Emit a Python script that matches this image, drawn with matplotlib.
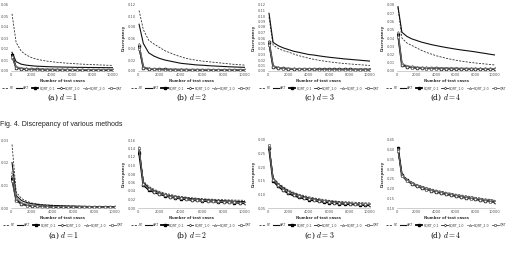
import matplotlib
matplotlib.use("Agg")
import matplotlib.pyplot as plt
from matplotlib.ticker import MultipleLocator, FormatStrFormatter

plt.rcParams['mathtext.fontset'] = 'cm'

x = [100, 500, 1000, 1500, 2000, 2500, 3000, 3500, 4000, 4500, 5000,
     5500, 6000, 6500, 7000, 7500, 8000, 8500, 9000, 9500, 10000]
labels = ["RT", "ART", "RQRT_0.1", "RQRT_1.0", "RQRT_2.0", "QRT"]
captions = ["(a) $d=1$", "(b) $d=2$", "(c) $d=3$", "(d) $d=4$"]
fig_caption = "Fig. 4. Discrepancy of various methods"
xlabel = "Number of test cases"
ylabel = "Discrepancy"

# ---------------- top row ----------------
t1_RT = [0.052, 0.026, 0.018, 0.0145, 0.0122, 0.0108, 0.0098, 0.009, 0.0084, 0.0079, 0.0075, 0.0071, 0.0068, 0.0065, 0.0062, 0.006, 0.0058, 0.0056, 0.0054, 0.0052, 0.0051]
t1_ART = [0.017, 0.0085, 0.0062, 0.0053, 0.0048, 0.0044, 0.0042, 0.004, 0.0038, 0.0037, 0.0036, 0.0035, 0.0034, 0.0033, 0.0033, 0.0032, 0.0032, 0.0031, 0.0031, 0.003, 0.003]
t1_R01 = [0.0145, 0.003, 0.0021, 0.0017, 0.0015, 0.0014, 0.0013, 0.0012, 0.0012, 0.0011, 0.0011, 0.0011, 0.001, 0.001, 0.001, 0.001, 0.001, 0.0009, 0.0009, 0.0009, 0.0009]
t1_R10 = [0.0135, 0.0032, 0.0022, 0.0018, 0.0016, 0.0015, 0.0014, 0.0013, 0.0012, 0.0012, 0.0011, 0.0011, 0.0011, 0.001, 0.001, 0.001, 0.001, 0.001, 0.001, 0.0009, 0.0009]
t1_R20 = [0.012, 0.004, 0.0029, 0.0024, 0.0021, 0.0019, 0.0018, 0.0017, 0.0016, 0.0016, 0.0015, 0.0015, 0.0014, 0.0014, 0.0014, 0.0013, 0.0013, 0.0013, 0.0013, 0.0012, 0.0012]
t1_QRT = [0.0125, 0.0028, 0.0019, 0.0015, 0.0013, 0.0012, 0.0011, 0.001, 0.001, 0.0009, 0.0009, 0.0009, 0.0008, 0.0008, 0.0008, 0.0008, 0.0008, 0.0007, 0.0007, 0.0007, 0.0007]

t2_RT = [0.11, 0.075, 0.056, 0.049, 0.043, 0.037, 0.033, 0.029, 0.026, 0.023, 0.021, 0.0195, 0.018, 0.017, 0.016, 0.015, 0.014, 0.013, 0.012, 0.0113, 0.0107]
t2_ART = [0.085, 0.05, 0.033, 0.027, 0.023, 0.02, 0.018, 0.016, 0.014, 0.013, 0.012, 0.011, 0.0105, 0.0098, 0.0092, 0.0087, 0.0082, 0.0077, 0.0073, 0.0069, 0.0066]
t2_R01 = [0.045, 0.006, 0.004, 0.0033, 0.003, 0.0028, 0.0026, 0.0025, 0.0024, 0.0023, 0.0022, 0.0022, 0.0021, 0.0021, 0.002, 0.002, 0.002, 0.0019, 0.0019, 0.0019, 0.0018]
t2_R10 = [0.043, 0.0065, 0.0043, 0.0035, 0.0031, 0.0029, 0.0027, 0.0026, 0.0025, 0.0024, 0.0023, 0.0023, 0.0022, 0.0022, 0.0021, 0.0021, 0.0021, 0.002, 0.002, 0.002, 0.002]
t2_R20 = [0.05, 0.008, 0.005, 0.0042, 0.0037, 0.0034, 0.0032, 0.003, 0.0029, 0.0028, 0.0027, 0.0026, 0.0026, 0.0025, 0.0025, 0.0024, 0.0024, 0.0023, 0.0023, 0.0023, 0.0022]
t2_QRT = [0.04, 0.0055, 0.0035, 0.0028, 0.0025, 0.0023, 0.0021, 0.002, 0.0019, 0.0018, 0.0018, 0.0017, 0.0017, 0.0016, 0.0016, 0.0016, 0.0015, 0.0015, 0.0015, 0.0015, 0.0014]

t3_RT = [0.098, 0.047, 0.041, 0.037, 0.0345, 0.031, 0.028, 0.0255, 0.0232, 0.0212, 0.0195, 0.018, 0.0167, 0.0155, 0.0145, 0.0136, 0.0128, 0.0121, 0.0114, 0.0107, 0.0101]
t3_ART = [0.105, 0.052, 0.046, 0.042, 0.039, 0.036, 0.034, 0.032, 0.030, 0.029, 0.0275, 0.0262, 0.025, 0.024, 0.023, 0.022, 0.0212, 0.0204, 0.0196, 0.0188, 0.018]
t3_R01 = [0.052, 0.008, 0.0055, 0.0046, 0.0041, 0.0038, 0.0036, 0.0034, 0.0033, 0.0032, 0.0031, 0.003, 0.003, 0.0029, 0.0029, 0.0028, 0.0028, 0.0027, 0.0027, 0.0027, 0.0026]
t3_R10 = [0.05, 0.0085, 0.0058, 0.0048, 0.0043, 0.004, 0.0038, 0.0036, 0.0035, 0.0034, 0.0033, 0.0032, 0.0031, 0.0031, 0.003, 0.003, 0.0029, 0.0029, 0.0029, 0.0028, 0.0028]
t3_R20 = [0.054, 0.01, 0.0068, 0.0056, 0.005, 0.0046, 0.0043, 0.0041, 0.0039, 0.0038, 0.0037, 0.0036, 0.0035, 0.0034, 0.0034, 0.0033, 0.0033, 0.0032, 0.0032, 0.0031, 0.0031]
t3_QRT = [0.048, 0.007, 0.0048, 0.004, 0.0036, 0.0033, 0.0031, 0.003, 0.0029, 0.0028, 0.0027, 0.0026, 0.0026, 0.0025, 0.0025, 0.0024, 0.0024, 0.0024, 0.0023, 0.0023, 0.0023]

t4_RT = [0.077, 0.04, 0.034, 0.031, 0.028, 0.025, 0.0225, 0.0205, 0.0185, 0.017, 0.0155, 0.0142, 0.0131, 0.0121, 0.0112, 0.0104, 0.0097, 0.0091, 0.0085, 0.0079, 0.0073]
t4_ART = [0.078, 0.047, 0.042, 0.039, 0.037, 0.035, 0.0335, 0.032, 0.0308, 0.0296, 0.0285, 0.0275, 0.0265, 0.0256, 0.0248, 0.024, 0.0232, 0.0222, 0.0213, 0.0203, 0.0194]
t4_R01 = [0.045, 0.0075, 0.0052, 0.0044, 0.0039, 0.0036, 0.0034, 0.0032, 0.0031, 0.003, 0.0029, 0.0028, 0.0028, 0.0027, 0.0027, 0.0026, 0.0026, 0.0025, 0.0025, 0.0025, 0.0024]
t4_R10 = [0.043, 0.008, 0.0056, 0.0047, 0.0042, 0.0039, 0.0037, 0.0035, 0.0034, 0.0033, 0.0032, 0.0031, 0.0031, 0.003, 0.003, 0.0029, 0.0029, 0.0028, 0.0028, 0.0028, 0.0027]
t4_R20 = [0.047, 0.0095, 0.0066, 0.0055, 0.0049, 0.0045, 0.0043, 0.0041, 0.0039, 0.0038, 0.0037, 0.0036, 0.0035, 0.0034, 0.0034, 0.0033, 0.0033, 0.0032, 0.0032, 0.0031, 0.0031]
t4_QRT = [0.041, 0.007, 0.0048, 0.004, 0.0035, 0.0032, 0.003, 0.0029, 0.0028, 0.0027, 0.0026, 0.0025, 0.0025, 0.0024, 0.0024, 0.0023, 0.0023, 0.0023, 0.0022, 0.0022, 0.0022]

# ---------------- bottom row ----------------
b1_RT = [0.028, 0.007, 0.0042, 0.003, 0.0022, 0.0018, 0.0015, 0.0013, 0.0012, 0.0011, 0.001, 0.0009, 0.00085, 0.0008, 0.00075, 0.0007, 0.00065, 0.0006, 0.0006, 0.00055, 0.0005]
b1_ART = [0.02, 0.0055, 0.0033, 0.0024, 0.0019, 0.0016, 0.0013, 0.0012, 0.0011, 0.001, 0.0009, 0.00085, 0.0008, 0.00075, 0.0007, 0.00065, 0.0006, 0.00058, 0.00055, 0.00052, 0.0005]
b1_R01 = [0.013, 0.0035, 0.0018, 0.0012, 0.0009, 0.0008, 0.0007, 0.0006, 0.00055, 0.0005, 0.00048, 0.00045, 0.00043, 0.0004, 0.00038, 0.00036, 0.00035, 0.00034, 0.00033, 0.00032, 0.0003]
b1_R10 = [0.014, 0.004, 0.002, 0.0014, 0.001, 0.0009, 0.0008, 0.0007, 0.0006, 0.00055, 0.0005, 0.00048, 0.00045, 0.00043, 0.0004, 0.00038, 0.00037, 0.00036, 0.00035, 0.00034, 0.00033]
b1_R20 = [0.016, 0.0045, 0.0024, 0.0017, 0.0013, 0.0011, 0.0009, 0.0008, 0.0007, 0.00065, 0.0006, 0.00056, 0.00052, 0.0005, 0.00047, 0.00045, 0.00043, 0.00041, 0.0004, 0.00038, 0.00037]
b1_QRT = [0.012, 0.003, 0.0016, 0.0011, 0.0008, 0.0007, 0.0006, 0.00055, 0.0005, 0.00045, 0.00042, 0.0004, 0.00038, 0.00036, 0.00034, 0.00033, 0.00032, 0.00031, 0.0003, 0.00029, 0.00028]

b2_RT = [0.145, 0.063, 0.051, 0.044, 0.039, 0.035, 0.032, 0.029, 0.027, 0.0255, 0.024, 0.023, 0.022, 0.021, 0.0205, 0.02, 0.0195, 0.019, 0.0186, 0.0183, 0.018]
b2_ART = [0.14, 0.06, 0.048, 0.041, 0.036, 0.032, 0.029, 0.027, 0.025, 0.0235, 0.022, 0.021, 0.020, 0.019, 0.0183, 0.0176, 0.017, 0.0165, 0.016, 0.0155, 0.015]
b2_R01 = [0.13, 0.054, 0.043, 0.037, 0.033, 0.029, 0.026, 0.024, 0.022, 0.0205, 0.019, 0.018, 0.017, 0.016, 0.0153, 0.0146, 0.014, 0.0134, 0.0128, 0.0122, 0.0117]
b2_R10 = [0.135, 0.055, 0.044, 0.038, 0.0335, 0.0295, 0.0265, 0.0245, 0.0225, 0.021, 0.0195, 0.0184, 0.0174, 0.0165, 0.0157, 0.015, 0.0143, 0.0137, 0.0131, 0.0126, 0.0121]
b2_R20 = [0.14, 0.057, 0.046, 0.039, 0.0345, 0.0305, 0.0275, 0.0253, 0.0233, 0.0217, 0.0202, 0.019, 0.018, 0.0171, 0.0163, 0.0156, 0.0149, 0.0143, 0.0137, 0.0132, 0.0127]
b2_QRT = [0.142, 0.056, 0.045, 0.0385, 0.034, 0.03, 0.027, 0.025, 0.023, 0.0213, 0.0198, 0.0187, 0.0177, 0.0168, 0.016, 0.0153, 0.0146, 0.014, 0.0134, 0.0129, 0.0124]

b3_RT = [0.28, 0.162, 0.142, 0.128, 0.116, 0.108, 0.101, 0.096, 0.091, 0.087, 0.084, 0.081, 0.078, 0.076, 0.074, 0.073, 0.072, 0.071, 0.07, 0.069, 0.068]
b3_ART = [0.275, 0.158, 0.138, 0.124, 0.112, 0.104, 0.097, 0.092, 0.087, 0.083, 0.08, 0.077, 0.075, 0.073, 0.071, 0.069, 0.068, 0.066, 0.065, 0.064, 0.063]
b3_R01 = [0.27, 0.15, 0.13, 0.115, 0.104, 0.096, 0.09, 0.085, 0.081, 0.078, 0.075, 0.072, 0.07, 0.068, 0.066, 0.065, 0.064, 0.063, 0.062, 0.061, 0.06]
b3_R10 = [0.272, 0.152, 0.132, 0.117, 0.106, 0.098, 0.092, 0.087, 0.083, 0.08, 0.077, 0.074, 0.072, 0.07, 0.068, 0.067, 0.065, 0.064, 0.063, 0.062, 0.061]
b3_R20 = [0.278, 0.155, 0.135, 0.12, 0.109, 0.101, 0.094, 0.089, 0.085, 0.081, 0.078, 0.076, 0.073, 0.071, 0.07, 0.068, 0.067, 0.066, 0.065, 0.064, 0.063]
b3_QRT = [0.28, 0.153, 0.133, 0.118, 0.107, 0.099, 0.093, 0.088, 0.084, 0.08, 0.077, 0.075, 0.072, 0.07, 0.069, 0.067, 0.066, 0.065, 0.064, 0.063, 0.062]

b4_RT = [0.405, 0.275, 0.25, 0.234, 0.222, 0.213, 0.205, 0.198, 0.192, 0.186, 0.181, 0.176, 0.171, 0.167, 0.163, 0.159, 0.155, 0.151, 0.147, 0.144, 0.14]
b4_ART = [0.4, 0.27, 0.245, 0.229, 0.217, 0.208, 0.2, 0.193, 0.187, 0.181, 0.176, 0.171, 0.166, 0.162, 0.158, 0.154, 0.15, 0.146, 0.142, 0.139, 0.136]
b4_R01 = [0.41, 0.268, 0.242, 0.226, 0.213, 0.204, 0.196, 0.189, 0.183, 0.177, 0.172, 0.167, 0.162, 0.157, 0.153, 0.149, 0.145, 0.141, 0.137, 0.134, 0.131]
b4_R10 = [0.405, 0.27, 0.244, 0.228, 0.215, 0.206, 0.198, 0.191, 0.185, 0.179, 0.174, 0.169, 0.164, 0.159, 0.155, 0.151, 0.147, 0.143, 0.139, 0.136, 0.133]
b4_R20 = [0.4, 0.272, 0.246, 0.23, 0.218, 0.209, 0.201, 0.194, 0.188, 0.182, 0.177, 0.172, 0.167, 0.163, 0.159, 0.155, 0.151, 0.147, 0.143, 0.14, 0.137]
b4_QRT = [0.395, 0.266, 0.24, 0.224, 0.211, 0.202, 0.194, 0.187, 0.181, 0.175, 0.17, 0.165, 0.16, 0.156, 0.152, 0.148, 0.144, 0.14, 0.136, 0.133, 0.13]

top_series = [
    [t1_RT, t1_ART, t1_R01, t1_R10, t1_R20, t1_QRT],
    [t2_RT, t2_ART, t2_R01, t2_R10, t2_R20, t2_QRT],
    [t3_RT, t3_ART, t3_R01, t3_R10, t3_R20, t3_QRT],
    [t4_RT, t4_ART, t4_R01, t4_R10, t4_R20, t4_QRT],
]
bot_series = [
    [b1_RT, b1_ART, b1_R01, b1_R10, b1_R20, b1_QRT],
    [b2_RT, b2_ART, b2_R01, b2_R10, b2_R20, b2_QRT],
    [b3_RT, b3_ART, b3_R01, b3_R10, b3_R20, b3_QRT],
    [b4_RT, b4_ART, b4_R01, b4_R10, b4_R20, b4_QRT],
]
top_ylims = [(0, 0.06, 0.01), (0, 0.12, 0.02), (0, 0.12, 0.01), (0, 0.08, 0.01)]
bot_ylims = [(0, 0.03, 0.01), (0, 0.16, 0.02), (0.05, 0.30, 0.05), (0.10, 0.45, 0.05)]

styles = [
    dict(color="#333333", ls=(0, (2.5, 1.5)), lw=0.6, marker=None),
    dict(color="#111111", ls="-", lw=0.8, marker=None),
    dict(color="#000000", ls="-", lw=1.3, marker="s", ms=1.8, mfc="#000000", mec="#000000"),
    dict(color="#222222", ls="-", lw=0.6, marker="D", ms=1.4, mfc="white", mec="#222222", mew=0.4),
    dict(color="#888888", ls="-", lw=0.6, marker="^", ms=1.6, mfc="white", mec="#666666", mew=0.4),
    dict(color="#555555", ls="-", lw=0.6, marker="o", ms=1.8, mfc="white", mec="#444444", mew=0.4),
]

W, H = 507, 254
fig = plt.figure(figsize=(W / 100, H / 100), dpi=100)
fig.patch.set_facecolor("white")

top_px = [(11, 113), (138, 245), (268, 370), (397, 495)]
bot_px = [(11, 115), (138, 245), (268, 370), (397, 495)]


def make_panel(px, ytop, ybot, series, ylim, legend_y, cap_y, caption, show_ylabel):
    l, r = px
    ax = fig.add_axes([l / W, 1 - ybot / H, (r - l) / W, (ybot - ytop) / H])
    handles = []
    for vals, lab, st in zip(series, labels, styles):
        h, = ax.plot(x, vals, label=lab, **st)
        handles.append(h)
    lo, hi, step = ylim
    ax.set_ylim(lo, hi)
    ax.set_xlim(0, 10000)
    ax.yaxis.set_major_locator(MultipleLocator(step))
    ax.yaxis.set_major_formatter(FormatStrFormatter("%.2f"))
    ax.xaxis.set_major_locator(MultipleLocator(2000))
    for s in ["top", "right", "left"]:
        ax.spines[s].set_visible(False)
    ax.spines["bottom"].set_color("#bbbbbb")
    ax.spines["bottom"].set_linewidth(0.5)
    ax.tick_params(axis="both", labelsize=2.6, colors="#555555", length=0, pad=1.5)
    ax.set_xlabel(xlabel, fontsize=2.7, color="#333333", labelpad=1.5, fontweight="bold")
    if show_ylabel:
        ax.set_ylabel(ylabel, fontsize=2.7, color="#333333", labelpad=1.5, fontweight="bold")
    cx = (l + r) / 2 / W
    ax.legend(handles=handles, loc="center", bbox_to_anchor=(cx, 1 - legend_y / H),
              bbox_transform=fig.transFigure, ncol=6, fontsize=2.3, frameon=False,
              handlelength=2.0, handletextpad=0.3, columnspacing=0.8,
              borderpad=0, labelcolor="#444444")
    fig.text(cx, 1 - cap_y / H, caption, ha="center", va="center",
             fontsize=5.5, family="DejaVu Serif")
    return ax


for i in range(4):
    make_panel(top_px[i], 5, 71, top_series[i], top_ylims[i], 88, 98, captions[i], i > 0)
    make_panel(bot_px[i], 140, 208, bot_series[i], bot_ylims[i], 225, 236, captions[i], i > 0)

fig.text(0.0, 1 - 125 / H, fig_caption, ha="left", va="center",
         fontsize=5, family="Liberation Sans", color="#222222")

fig.savefig("out.png", dpi=100, facecolor="white")
